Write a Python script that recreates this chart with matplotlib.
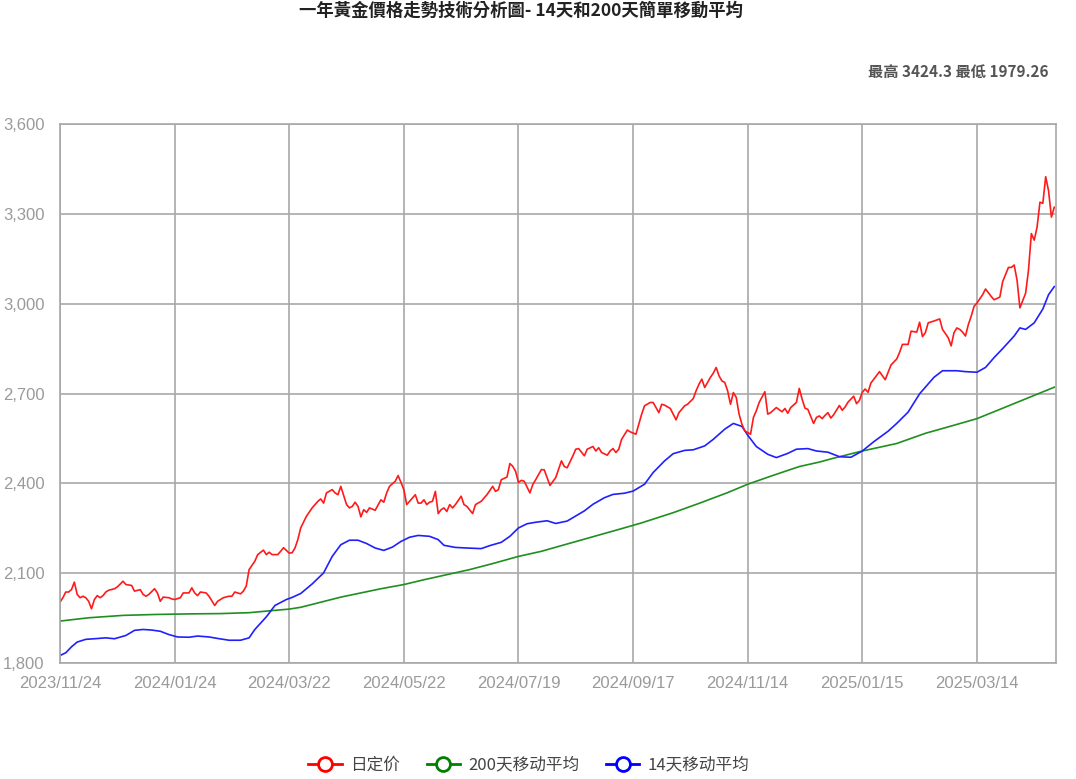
import matplotlib
matplotlib.use("Agg")
import matplotlib.pyplot as plt
from matplotlib.lines import Line2D
from matplotlib.ticker import FuncFormatter

# trading day index (0 = 2023/11/24) and the daily fixing price
red_day = [
    0, 1, 2, 3, 4, 5, 6, 7, 8, 9,
    10, 11, 12, 13, 14, 15, 16, 17, 19, 20,
    22, 23, 25, 26, 28, 29, 30, 31, 33, 34,
    35, 36, 38, 39, 40, 42, 43, 45, 46, 47,
    48, 49, 51, 52, 54, 55, 57, 59, 60, 61,
    63, 64, 65, 66, 68, 69, 71, 72, 73, 74,
    76, 77, 78, 80, 81, 82, 83, 84, 86, 88,
    90, 91, 92, 93, 95, 96, 97, 98, 100, 101,
    102, 103, 104, 105, 106, 107, 108, 109, 110, 112,
    113, 114, 115, 117, 118, 119, 120, 121, 122, 124,
    125, 126, 127, 128, 129, 130, 131, 132, 133, 134,
    135, 136, 137, 138, 140, 141, 142, 144, 145, 147,
    149, 151, 152, 153, 154, 156, 157, 158, 159, 160,
    161, 162, 164, 165, 166, 168, 169, 170, 171, 173,
    174, 175, 176, 177, 179, 180, 181, 183, 184, 186,
    187, 188, 189, 191, 192, 193, 194, 195, 196, 198,
    199, 201, 203, 204, 206, 207, 208, 209, 210, 211,
    213, 214, 215, 216, 218, 219, 221, 222, 223, 224,
    225, 226, 227, 228, 229, 230, 231, 232, 233, 234,
    235, 236, 237, 238, 239, 241, 242, 243, 244, 246,
    247, 248, 250, 252, 253, 254, 255, 257, 258, 259,
    260, 261, 263, 264, 265, 266, 267, 268, 269, 270,
    272, 273, 274, 275, 277, 278, 279, 280, 281, 282,
    283, 285, 286, 288, 289, 290, 292, 293, 294, 296,
    297, 299, 300, 301, 302, 303, 305, 307, 308, 310,
    311, 312, 313, 314, 315, 316, 317, 318, 319, 320,
    322, 323, 325, 326, 328, 329, 331, 332, 333, 334,
    335, 337, 338, 339, 340, 341, 342, 343, 344, 345,
    346, 347,
]
red_price = [
    2003, 2018, 2037, 2037, 2045, 2070, 2029, 2018, 2023, 2018,
    2006, 1981, 2012, 2025, 2018, 2025, 2037, 2043, 2048, 2054,
    2073, 2062, 2059, 2040, 2045, 2029, 2023, 2029, 2048, 2034,
    2006, 2020, 2018, 2014, 2012, 2018, 2034, 2034, 2051, 2034,
    2025, 2037, 2034, 2023, 1992, 2006, 2018, 2023, 2023, 2037,
    2031, 2040, 2057, 2112, 2140, 2162, 2177, 2162, 2170, 2162,
    2162, 2173, 2185, 2167, 2168, 2184, 2212, 2251, 2290, 2318,
    2340, 2348, 2334, 2368, 2379, 2368, 2362, 2390, 2329, 2318,
    2323, 2337, 2323, 2288, 2312, 2303, 2318, 2314, 2310, 2345,
    2337, 2368, 2390, 2407, 2426, 2403, 2379, 2329, 2340, 2362,
    2334, 2334, 2345, 2329, 2337, 2340, 2373, 2299, 2312, 2318,
    2306, 2329, 2318, 2329, 2357, 2329, 2323, 2299, 2329, 2340,
    2362, 2390, 2373, 2379, 2412, 2421, 2466, 2457, 2440, 2403,
    2410, 2407, 2368, 2396, 2412, 2446, 2445, 2419, 2393, 2419,
    2447, 2475, 2456, 2452, 2492, 2514, 2516, 2492, 2514, 2523,
    2508, 2519, 2503, 2494, 2508, 2516, 2503, 2514, 2547, 2578,
    2572, 2564, 2631, 2659, 2670, 2670, 2653, 2636, 2664, 2661,
    2650, 2631, 2612, 2636, 2659, 2664, 2683, 2709, 2731, 2748,
    2720, 2737, 2754, 2768, 2787, 2759, 2742, 2737, 2709, 2664,
    2703, 2687, 2631, 2597, 2575, 2564, 2620, 2642, 2670, 2706,
    2631, 2636, 2653, 2639, 2650, 2634, 2653, 2670, 2717, 2681,
    2651, 2647, 2600, 2620, 2625, 2616, 2627, 2636, 2618, 2629,
    2660, 2644, 2655, 2671, 2691, 2666, 2677, 2704, 2715, 2704,
    2735, 2760, 2773, 2746, 2771, 2795, 2815, 2837, 2864, 2864,
    2908, 2905, 2938, 2890, 2903, 2936, 2942, 2949, 2914, 2886,
    2859, 2903, 2919, 2914, 2905, 2892, 2930, 2958, 2991, 3002,
    3030, 3049, 3024, 3013, 3022, 3074, 3121, 3121, 3129, 3079,
    2986, 3035, 3112, 3234, 3212, 3256, 3339, 3335, 3424, 3377,
    3289, 3322,
]

# 14 day moving average
ma14_day = [0, 2, 4, 6, 9, 12, 16, 19, 23, 26, 29, 32, 35, 38, 41, 45, 48, 52,
            55, 59, 63, 66, 68, 72, 75, 79, 81, 84, 88, 92, 95, 98, 101, 104,
            107, 110, 113, 116, 119, 122, 125, 129, 132, 134, 138, 142, 147,
            150, 154, 157, 160, 163, 166, 170, 173, 177, 180, 183, 186, 190,
            193, 197, 200, 204, 207, 211, 214, 218, 221, 225, 228, 232, 235,
            238, 240, 243, 247, 250, 254, 257, 261, 264, 268, 272, 276, 280,
            284, 289, 292, 296, 300, 305, 308, 313, 316, 320, 323, 326, 329,
            333, 335, 337, 340, 343, 345, 347]
ma14_val = [1825, 1834, 1854, 1870, 1879, 1881, 1884, 1881, 1892, 1909, 1912,
            1910, 1906, 1895, 1887, 1886, 1890, 1887, 1882, 1876, 1876, 1884,
            1912, 1954, 1992, 2012, 2019, 2032, 2064, 2101, 2156, 2195, 2210,
            2210, 2199, 2184, 2176, 2187, 2206, 2220, 2226, 2223, 2212, 2193,
            2186, 2184, 2182, 2192, 2203, 2223, 2251, 2265, 2270, 2275, 2266,
            2274, 2291, 2308, 2330, 2352, 2363, 2367, 2374, 2397, 2436, 2475,
            2499, 2510, 2512, 2525, 2547, 2581, 2600, 2590, 2561, 2523, 2497,
            2486, 2500, 2514, 2516, 2508, 2504, 2489, 2487, 2508, 2539, 2574,
            2600, 2638, 2699, 2754, 2776, 2776, 2773, 2771, 2787, 2820, 2850,
            2892, 2919, 2914, 2936, 2982, 3030, 3057]

# 200 day moving average
ma200_day = [0, 10, 22, 33, 45, 56, 66, 74, 80, 84, 91, 98, 105, 112, 120, 127,
             135, 143, 151, 160, 168, 175, 195, 203, 214, 223, 233, 240, 249,
             258, 265, 270, 280, 292, 302, 312, 320, 328, 337, 347]
ma200_val = [1940, 1951, 1959, 1962, 1964, 1965, 1968, 1975, 1980, 1986, 2003,
             2020, 2034, 2048, 2062, 2078, 2095, 2112, 2132, 2156, 2173, 2192,
             2246, 2268, 2302, 2333, 2369, 2397, 2427, 2456, 2471, 2484, 2508,
             2533, 2567, 2594, 2616, 2647, 2682, 2721]

tick_days = [0, 40, 80, 120, 160, 200, 240, 280, 320]
tick_labels = ["2023/11/24", "2024/01/24", "2024/03/22", "2024/05/22",
               "2024/07/19", "2024/09/17", "2024/11/14", "2025/01/15",
               "2025/03/14"]
y_ticks = [1800, 2100, 2400, 2700, 3000, 3300, 3600]

title = "一年黃金價格走勢技術分析圖- 14天和200天簡單移動平均"
stats = "最高 3424.3 最低 1979.26"
names = ["日定价", "200天移动平均", "14天移动平均"]

c_red = "#ff1a1a"
c_green = "#1f8f1f"
c_blue = "#2020ff"
grid_c = "#a8a8a8"
cjk_tc = ["Noto Sans CJK TC", "DejaVu Sans"]
cjk_sc = ["Noto Sans CJK SC", "DejaVu Sans"]

fig = plt.figure(figsize=(10.76, 7.79), dpi=100)
ax = fig.add_axes([60 / 1076, 1 - 663 / 779, 996 / 1076, 539 / 779])

ax.plot(ma200_day, ma200_val, color=c_green, lw=1.2)
ax.plot(ma14_day, ma14_val, color=c_blue, lw=1.2)
ax.plot(red_day, red_price, color=c_red, lw=1.2)

ax.set_xlim(0, 347.6)
ax.set_ylim(1800, 3600)
ax.set_xticks(tick_days)
ax.set_xticklabels(tick_labels)
ax.set_yticks(y_ticks)
ax.yaxis.set_major_formatter(FuncFormatter(lambda v, p: f"{int(v):,}"))
ax.grid(True, color=grid_c, lw=1.2)
ax.set_axisbelow(True)
for s in ax.spines.values():
    s.set_color(grid_c)
    s.set_linewidth(1.2)
ax.tick_params(length=0, labelsize=12, labelcolor="#9a9a9a")
ax.tick_params(axis="y", pad=11)
ax.tick_params(axis="x", pad=9)
for lab in ax.get_xticklabels() + ax.get_yticklabels():
    lab.set_family("Liberation Sans")

fig.text(521 / 1076, 1 - 11 / 779, title, ha="center", va="center",
         fontsize=12.5, fontweight="bold", family=cjk_tc, color="#222222")
fig.text(1048 / 1076, 1 - 72 / 779, stats, ha="right", va="center",
         fontsize=11, fontweight="bold", family=cjk_tc, color="#555555")

handles = [Line2D([], [], color=c, lw=2, marker="o", markersize=10,
                  markerfacecolor="white", markeredgewidth=2)
           for c in ("#ff0000", "#008000", "#0000ff")]
leg = fig.legend(handles, names, loc="center",
                 bbox_to_anchor=(529 / 1076, 1 - 765 / 779), ncol=3,
                 frameon=False, prop={"family": cjk_sc, "size": 12},
                 handlelength=2.0, handletextpad=0.5, columnspacing=1.6)
for t in leg.get_texts():
    t.set_color("#444444")

fig.savefig("out.png", dpi=100)
